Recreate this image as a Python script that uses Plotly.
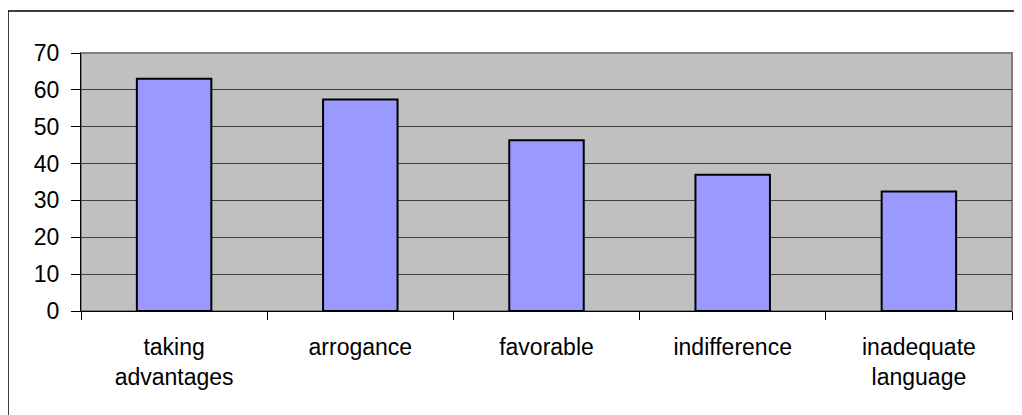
import plotly.graph_objects as go

categories = ["taking<br>advantages", "arrogance", "favorable", "indifference", "inadequate<br>language"]
values = [63, 57.4, 46.3, 37, 32.4]
y_ticks = [0, 10, 20, 30, 40, 50, 60, 70]

# page has an 8px body margin, so the figure is sized to fit the window
W, H = 1014, 407
L, R, T, B = 73, 10, 45, 104
pw, ph = W - L - R, H - T - B

def px_x(p):
    return (p - L) / pw

def px_y(p):
    return (H - B - p) / ph

fig = go.Figure(go.Bar(
    x=categories, y=values,
    marker=dict(color="#9999FF", line=dict(color="black", width=2)),
    width=0.4,
))

fig.update_layout(
    width=W, height=H,
    margin=dict(l=L, r=R, t=T, b=B),
    paper_bgcolor="white",
    plot_bgcolor="#C0C0C0",
    showlegend=False,
    font=dict(family="Liberation Sans, Arial, sans-serif", size=23, color="black"),
    shapes=[
        dict(type="rect", xref="paper", yref="paper",
             x0=0, x1=1, y0=0, y1=1,
             line=dict(color="#808080", width=2), layer="below"),
        dict(type="rect", xref="paper", yref="paper",
             x0=px_x(0), x1=px_x(1040), y0=px_y(3), y1=px_y(440),
             line=dict(color="black", width=1.5), fillcolor="rgba(0,0,0,0)"),
    ],
)

fig.update_xaxes(
    type="category",
    tickson="boundaries",
    ticks="outside", ticklen=8, tickcolor="black",
    showline=True, linecolor="black", linewidth=1,
    showgrid=False,
    ticklabelstandoff=15,
    tickfont=dict(size=23),
)
fig.update_yaxes(
    range=[0, 70],
    tickvals=y_ticks,
    ticks="outside", ticklen=9, tickcolor="black",
    showline=True, linecolor="black", linewidth=1,
    showgrid=True, gridcolor="#404040", gridwidth=1,
    zeroline=False,
    ticklabelstandoff=7,
    tickfont=dict(size=23),
)

fig.write_html("out.html")
